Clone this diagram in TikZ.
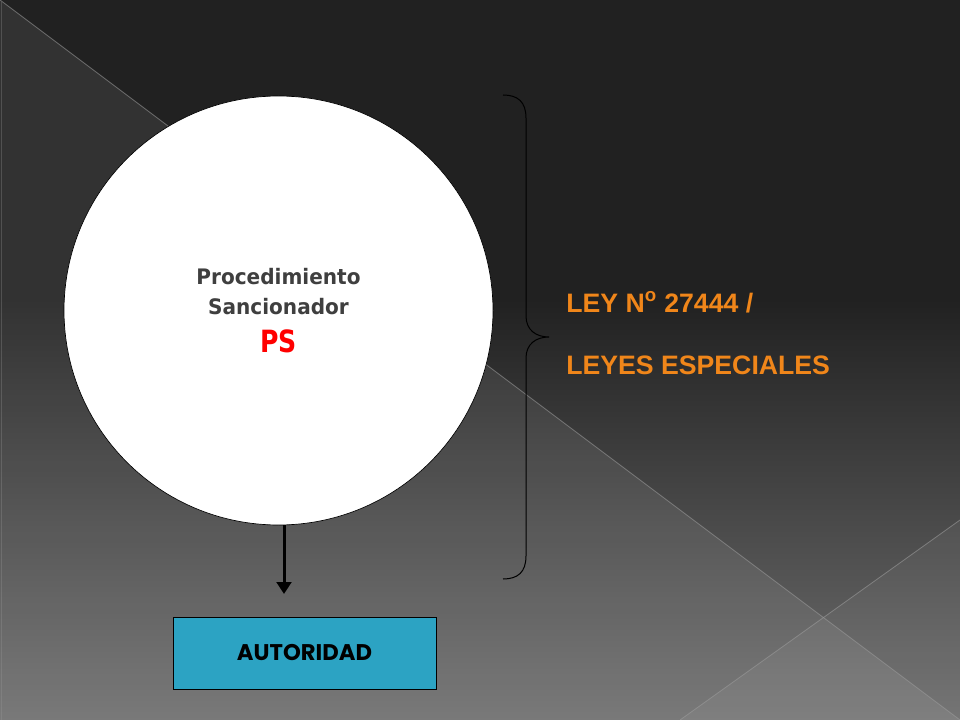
\documentclass[tikz,border=0pt]{standalone}
\usepackage{fontspec}
\setmainfont{Liberation Sans}
\newfontfamily\circfont[FakeStretch=0.94]{DejaVu Sans}
\newfontfamily\psfont[FakeStretch=0.82]{DejaVu Sans}
\newfontfamily\boxfont{Poppins}
\usetikzlibrary{arrows.meta,positioning}
\definecolor{bgtop}{HTML}{212121}
\definecolor{bgbot}{HTML}{6E6E6E}
\definecolor{leyorange}{HTML}{F0861A}
\definecolor{autblue}{HTML}{2CA3C3}
\definecolor{psgray}{HTML}{3F3F3F}
\definecolor{edgegray}{HTML}{9A9A9A}
\begin{document}
\begin{tikzpicture}[x=0.75pt,y=-0.75pt,
    psnode/.style={circle, draw=black, line width=0.5pt, fill=white, minimum size=321.75pt, inner sep=0pt, align=center,
      text=psgray, font=\circfont\bfseries\fontsize{16}{22.5}\selectfont},
    ley/.style={anchor=base west, text=leyorange, inner sep=0pt, font=\fontsize{20}{24}\selectfont\bfseries},
    autbox/.style={draw=black, line width=0.6pt, fill=autblue, minimum width=197.25pt, minimum height=54pt,
      font=\boxfont\fontsize{17}{20}\selectfont\bfseries}]
      \useasboundingbox (0,0) rectangle (960,720);
      \fill[bgtop] (0,0) rectangle (960,300);
      \shade[top color=bgtop, bottom color=bgbot] (0,299) rectangle (960,720);
      \fill[white, opacity=0.08] (0,0) -- (960,720) -- (0,720) -- cycle;
      \fill[white, opacity=0.05] (960,520) -- (960,720) -- (680,720) -- cycle;
      \draw[edgegray, opacity=0.6, line width=0.6pt] (0,0) -- (960,720);
      \draw[edgegray, opacity=0.6, line width=0.6pt] (960,520) -- (680,720);
      \draw[edgegray, opacity=0.3, line width=0.6pt] (1.5,2) -- (1.5,720);

      \node[psnode] (ps) at (278.5,310.5) {Procedimiento\\Sancionador\\[6pt]{\psfont\color{red}\fontsize{23}{26}\selectfont PS}};
      \node[autbox] (aut) at (304.5,653) {AUTORIDAD};
      \node[ley] (ley) at (566,312) {LEY N\textsuperscript{o} 27444 /};
      \node[ley] (esp) at (566,374) {LEYES ESPECIALES};

      \coordinate (tip) at (284,594);
      \draw[-{Triangle[width=11pt,length=9pt]}, line width=2.25pt] (ps.south -| tip) -- (tip);
      \draw[black, line width=0.75pt] (503,95) .. controls (518,95) and (526,102) .. (526,118) -- (526,316)
          .. controls (526,330) and (536,337) .. (549,337) .. controls (536,337) and (526,344) .. (526,358)
          -- (526,556) .. controls (526,572) and (518,579) .. (503,579);
\end{tikzpicture}
\end{document}
